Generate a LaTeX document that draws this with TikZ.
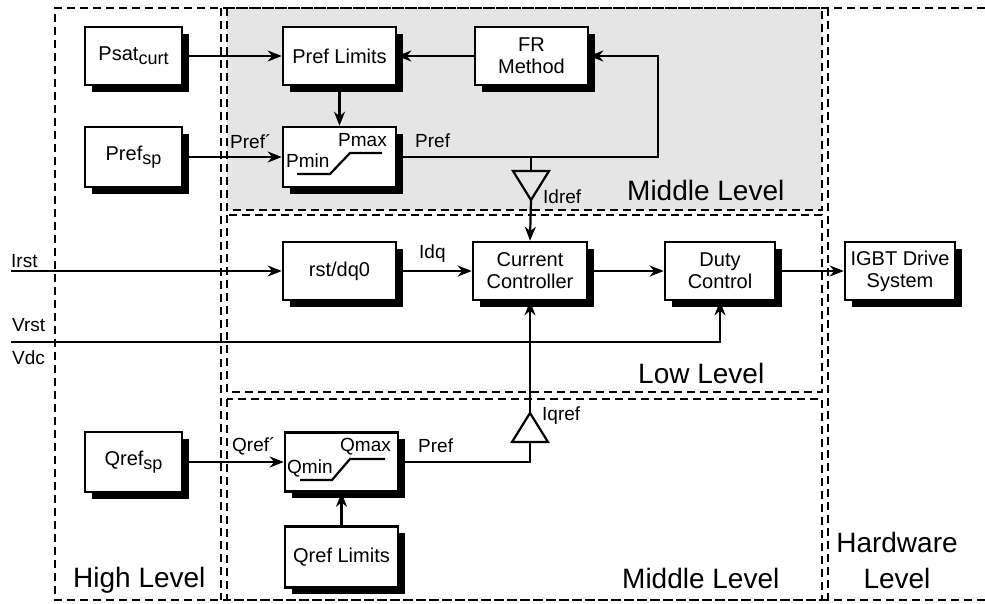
\documentclass[tikz,border=0pt]{standalone}
\usepackage{fontspec}
\setmainfont{Liberation Sans}
\usetikzlibrary{arrows.meta,shadows,calc}
\newcommand{\mysub}[1]{\raisebox{-0.35ex}{\fontsize{18}{18}\selectfont #1}}
\begin{document}
\begin{tikzpicture}[x=1pt,y=-1pt,
  blk/.style={draw,line width=2.6pt,fill=white,
    drop shadow={shadow xshift=6.5pt,shadow yshift=-6.5pt,fill=black,opacity=1},
    font=\fontsize{20}{22}\selectfont,inner sep=0pt,align=center},
  conn/.style={line width=2.2pt,-{Stealth[length=14pt,width=11pt,inset=4.5pt]}},
  wire/.style={line width=2.2pt},
  lbl/.style={font=\fontsize{19}{21}\selectfont,inner sep=0pt,anchor=base west},
  big/.style={font=\fontsize{28}{30}\selectfont,inner sep=0pt,anchor=base west},
  dline/.style={line width=2.4pt,dash pattern=on 8pt off 5pt}
]
\useasboundingbox (0,0) rectangle (985,603);

% level regions
\fill[black!10] (227,8) rectangle (822,210);
\draw[dline] (227,8) rectangle (822,210);
\draw[dline] (227,215) rectangle (822,392);
\draw[dline] (227,399) rectangle (822,600);
\draw[dline] (985,8) -- (55,8) -- (55,600) -- (985,600);
\draw[dline] (221,8) -- (221,600);
\draw[dline] (828,8) -- (828,600);

% blocks
\node[blk,minimum width=97pt,minimum height=58pt] (psat) at (133.5,56) {Psat\mysub{curt}};
\node[blk,minimum width=97pt,minimum height=60pt] (prefsp) at (133.5,157) {Pref\mysub{sp}};
\node[blk,minimum width=113pt,minimum height=58pt] (plim) at (339.5,56) {Pref Limits};
\node[blk,minimum width=113pt,minimum height=60pt] (psatb) at (339.5,157) {};
\node[blk,minimum width=113pt,minimum height=58pt] (fr) at (531.5,56) {FR\\Method};
\node[blk,minimum width=113pt,minimum height=58pt] (rst) at (339.5,271) {rst/dq0};
\node[blk,minimum width=114pt,minimum height=58pt] (cc) at (530,271) {Current\\Controller};
\node[blk,minimum width=110pt,minimum height=58pt] (duty) at (720,271) {Duty\\Control};
\node[blk,minimum width=110pt,minimum height=58pt] (igbt) at (900,271) {IGBT Drive\\System};
\node[blk,minimum width=97pt,minimum height=60pt] (qrefsp) at (133.5,462) {Qref\mysub{sp}};
\node[blk,minimum width=113pt,minimum height=59pt] (qsatb) at (341.5,462) {};
\node[blk,minimum width=113pt,minimum height=61pt] (qlim) at (341.5,557) {Qref Limits};

% saturation block contents
\node[lbl] (pmax) at (338,146) {Pmax};
\node[lbl] (pmin) at (286,167) {Pmin};
\draw[wire] (297,174) -- (330,174) -- (350,153) -- (382,153);
\node[lbl] (qmax) at (340,451) {Qmax};
\node[lbl] (qmin) at (287,473) {Qmin};
\draw[wire] (300,480) -- (332,480) -- (350,459) -- (385,459);

% triangles
\coordinate (tdtop) at (531,171);
\coordinate (tdapex) at (531,200);
\draw[wire,line join=miter] ($(tdtop)+(-18,0)$) -- ($(tdtop)+(18,0)$) -- (tdapex) -- cycle;
\coordinate (tqbase) at (530,442);
\coordinate (tqapex) at (530,413);
\draw[wire,line join=miter] ($(tqbase)+(-18,0)$) -- ($(tqbase)+(18,0)$) -- (tqapex) -- cycle;

% connectors
\draw[conn] (psat.east) -- (plim.west);
\draw[conn] (fr.west) -- (plim.west -| plim.east);
\draw[conn] (plim.south) -- (psatb.north);
\draw[conn] (prefsp.east) -- (psatb.west);
\coordinate (frc) at (658,157);
\draw[conn] (psatb.east) -- (frc) -- (frc |- fr.east) -- (fr.east);
\draw[wire] (tdtop |- frc) -- (tdtop);
\draw[conn] (tdapex) -- (cc.north);

\coordinate (irst) at (11,271);
\draw[conn] (irst) -- (rst.west);
\draw[conn] (rst.east) -- (cc.west);
\draw[conn] (cc.east) -- (duty.west);
\draw[conn] (duty.east) -- (igbt.west);
\coordinate (vrst) at (11,342);
\draw[conn] (vrst) -- (vrst -| duty.south) -- (duty.south);

\draw[conn] (qrefsp.east) -- (qsatb.west);
\draw[wire] (qsatb.east) -- (qsatb.east -| tqbase) -- (tqbase);
\draw[conn] (tqapex) -- (cc.south);
\draw[conn] (qlim.north) -- (qsatb.south);

% labels
\node[lbl] (lirst) at (11,267) {Irst};
\node[lbl] (lvrst) at (12,331) {Vrst};
\node[lbl] (lvdc) at (12,364) {Vdc};
\node[lbl] (lprefp) at (230,148) {Pref´};
\node[lbl] (lpref1) at (415,147) {Pref};
\node[lbl] (lidref) at (543,203) {Idref};
\node[lbl] (lidq) at (419,258) {Idq};
\node[lbl] (lqrefp) at (232,451) {Qref´};
\node[lbl] (lpref2) at (418,452) {Pref};
\node[lbl] (liqref) at (542,420) {Iqref};

\node[big] (ml1) at (627,200) {Middle Level};
\node[big] (ll) at (638,383) {Low Level};
\node[big] (ml2) at (622,588) {Middle Level};
\node[big] (hl) at (73,587) {High Level};
\node[big,anchor=base] (hw1) at (897,552) {Hardware};
\node[big,anchor=base] (hw2) at (897,588) {Level};
\end{tikzpicture}
\end{document}
